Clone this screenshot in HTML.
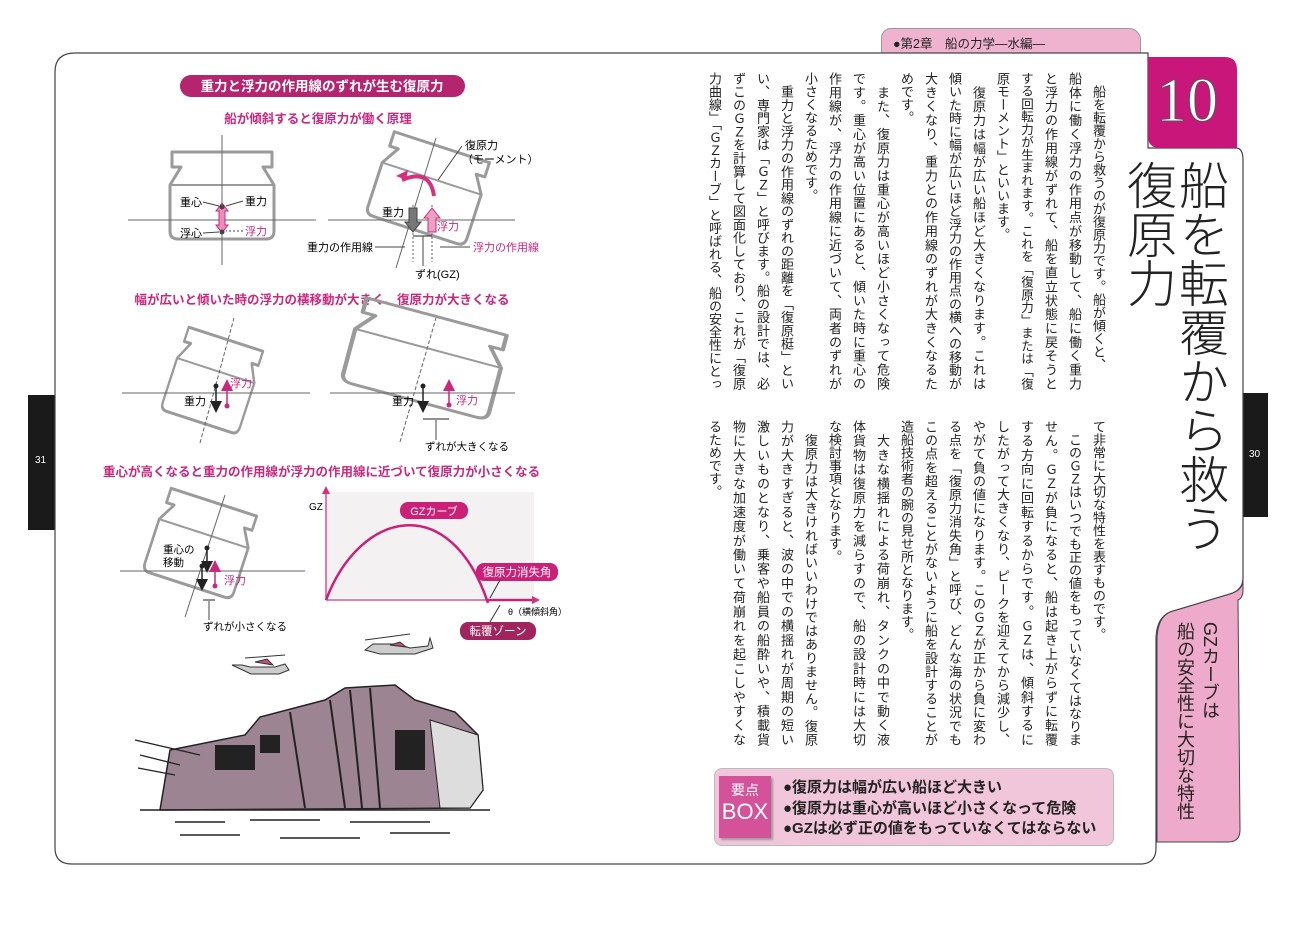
<!DOCTYPE html>
<html><head><meta charset="utf-8">
<style>
body{margin:0;width:1299px;height:925px;background:#fff;position:relative;overflow:hidden;font-family:"Liberation Sans","Noto Sans CJK JP",sans-serif;color:#222}
.abs{position:absolute}
.cols{position:absolute;display:flex;flex-direction:row-reverse;}
.cols div{writing-mode:vertical-rl;width:24px;font-size:13px;line-height:24px;white-space:nowrap;overflow:hidden}
.cols div.f{text-align:justify;text-align-last:justify}
.u div{height:318px}
.l div{height:326px}
</style></head><body>
<div class="abs" style="left:881px;top:28px;width:258px;height:40px;background:#efb3cf;border:1px solid #999;border-radius:10px 12px 0 0;"></div>
<div class="abs" style="left:893px;top:33px;font-size:12.5px;color:#222">●第2章　船の力学―水編―</div>
<div class="abs" style="left:28px;top:395px;width:30px;height:135px;background:#1a1a1a;"></div>
<div class="abs" style="left:35px;top:455px;font-size:10px;color:#fff">31</div>
<div class="abs" style="left:1240px;top:393px;width:28px;height:124px;background:#1a1a1a;"></div>
<div class="abs" style="left:1249px;top:449px;font-size:10px;color:#fff">30</div>
<svg class="abs" style="left:0;top:0" width="1299" height="925">
<path d="M75,53 H1148 V148 H1236 Q1243,148 1243,160 V578 Q1243,590 1230,594 L1170,612 Q1156,618 1156,640 V848 Q1156,864 1140,864 H72 Q55,864 55,848 V72 Q55,53 75,53 Z" fill="#fff" stroke="#444" stroke-width="1.2"/>
<path d="M1243,590 Q1243,598 1238,600 L1240,830 Q1240,842 1228,842 H1157 V640 Q1157,618 1170,612 L1230,594 Q1243,590 1243,580 Z" fill="#eeaacb" stroke="#444" stroke-width="1"/>
<path d="M1148,57 H1225 Q1237,57 1237,70 V148 H1160 Q1148,148 1148,136 Z" fill="#c8167a"/>
</svg>
<div class="abs" style="left:1156px;top:58px;font-size:62px;line-height:86px;color:#fff;font-family:'Liberation Serif',serif;-webkit-text-stroke:1px #555;">10</div>
<div class="abs" style="left:1174px;top:160px;writing-mode:vertical-rl;font-size:50px;line-height:52px;letter-spacing:-1px;color:#222;font-weight:300">船を転覆から救う</div>
<div class="abs" style="left:1122px;top:160px;writing-mode:vertical-rl;font-size:50px;line-height:52px;letter-spacing:-1px;color:#222;font-weight:300">復原力</div>
<div class="abs" style="left:1197px;top:622px;writing-mode:vertical-rl;font-size:18px;line-height:26px;color:#222">GZカーブは</div>
<div class="abs" style="left:1172px;top:622px;writing-mode:vertical-rl;font-size:18px;line-height:26px;color:#222">船の安全性に大切な特性</div>
<div class="cols u" style="left:702px;top:72px;height:318px;width:408px">
<div>　船を転覆から救うのが復原力です。船が傾くと、</div>
<div class="f">船体に働く浮力の作用点が移動して、船に働く重力</div>
<div class="f">と浮力の作用線がずれて、船を直立状態に戻そうと</div>
<div class="f" style="font-size:12.5px">する回転力が生まれます。これを「復原力」または「復</div>
<div>原モーメント」といいます。</div>
<div class="f">　復原力は幅が広い船ほど大きくなります。これは</div>
<div class="f">傾いた時に幅が広いほど浮力の作用点の横への移動が</div>
<div class="f">大きくなり、重力との作用線のずれが大きくなるた</div>
<div>めです。</div>
<div class="f">　また、復原力は重心が高いほど小さくなって危険</div>
<div class="f">です。重心が高い位置にあると、傾いた時に重心の</div>
<div class="f">作用線が、浮力の作用線に近づいて、両者のずれが</div>
<div>小さくなるためです。</div>
<div class="f">　重力と浮力の作用線のずれの距離を「復原梃」とい</div>
<div class="f">い、専門家は「ＧＺ」と呼びます。船の設計では、必</div>
<div class="f">ずこのＧＺを計算して図面化しており、これが「復原</div>
<div class="f">力曲線」「ＧＺカーブ」と呼ばれる、船の安全性にとっ</div>
</div>
<div class="cols l" style="left:702px;top:420px;height:326px;width:408px">
<div>て非常に大切な特性を表すものです。</div>
<div class="f">　このＧＺはいつでも正の値をもっていなくてはなりま</div>
<div class="f">せん。ＧＺが負になると、船は起き上がらずに転覆</div>
<div class="f">する方向に回転するからです。ＧＺは、傾斜するに</div>
<div class="f">したがって大きくなり、ピークを迎えてから減少し、</div>
<div class="f">やがて負の値になります。このＧＺが正から負に変わ</div>
<div class="f">る点を「復原力消失角」と呼び、どんな海の状況でも</div>
<div class="f">この点を超えることがないように船を設計することが</div>
<div>造船技術者の腕の見せ所となります。</div>
<div class="f">　大きな横揺れによる荷崩れ、タンクの中で動く液</div>
<div class="f">体貨物は復原力を減らすので、船の設計時には大切</div>
<div>な検討事項となります。</div>
<div class="f">　復原力は大きければいいわけではありません。復原</div>
<div class="f">力が大きすぎると、波の中での横揺れが周期の短い</div>
<div class="f">激しいものとなり、乗客や船員の船酔いや、積載貨</div>
<div class="f">物に大きな加速度が働いて荷崩れを起こしやすくな</div>
<div>るためです。</div>
</div>
<div class="abs" style="left:714px;top:768px;width:398px;height:76px;background:#f2c6da;border:1px solid #bbb;border-radius:8px;"></div>
<div class="abs" style="left:719px;top:776px;width:52px;height:62px;background:#d4529a;box-shadow:2px 2px 2px #999;color:#fff;text-align:center;font-size:14px;line-height:17px;padding-top:6px;box-sizing:border-box">要点<br><span style="font-size:22px;line-height:26px">BOX</span></div>
<div class="abs" style="left:783px;top:778px;font-size:15px;line-height:20.5px;font-weight:bold;color:#222">●復原力は幅が広い船ほど大きい<br>●復原力は重心が高いほど小さくなって危険<br>●GZは必ず正の値をもっていなくてはならない</div>

<svg class="abs" style="left:0;top:0" width="700" height="925" font-family="Liberation Sans, Noto Sans CJK JP, sans-serif">
<defs>
<g id="ship"><path d="M-50,-45 H50 V-30 H41 L52,-12 V34 Q52,42 44,42 H-44 Q-52,42 -52,34 V-12 L-41,-30 H-50 Z" fill="none" stroke="#9a9a9a" stroke-width="3" stroke-linejoin="round"/><line x1="-52" y1="-12" x2="52" y2="-12" stroke="#9a9a9a" stroke-width="2"/></g>
<marker id="ah" markerWidth="8" markerHeight="8" refX="6" refY="4" orient="auto"><path d="M0,0 L8,4 L0,8 Z" fill="#222"/></marker>
<marker id="ahp" markerWidth="8" markerHeight="8" refX="6" refY="4" orient="auto"><path d="M0,0 L8,4 L0,8 Z" fill="#c8287e"/></marker>
</defs>
<rect x="180" y="75" width="285" height="22" rx="11" fill="#b5246f"/>
<text x="322" y="91" font-size="13.5" fill="#fff" text-anchor="middle" font-weight="bold">重力と浮力の作用線のずれが生む復原力</text>
<text x="318" y="123" font-size="12.5" fill="#c8287e" text-anchor="middle" font-weight="bold">船が傾斜すると復原力が働く原理</text>
<use href="#ship" transform="translate(222,197)"/>
<line x1="128" y1="220" x2="316" y2="220" stroke="#666"/>
<line x1="222" y1="135" x2="222" y2="265" stroke="#666"/>
<path d="M222,203 l-6,8 h3 v14 h-3 l6,8 l6,-8 h-3 v-14 h3 z" fill="#ec8cb8" stroke="#c8287e"/>
<circle cx="222" cy="207" r="2.5" fill="#444"/><circle cx="222" cy="232" r="2.5" fill="#444"/>
<text x="180" y="206" font-size="11">重心</text><text x="245" y="205" font-size="11">重力</text>
<text x="180" y="237" font-size="11">浮心</text><text x="245" y="235" font-size="11" fill="#c8287e">浮力</text>
<line x1="203" y1="202" x2="219" y2="206" stroke="#444"/><line x1="243" y1="201" x2="226" y2="206" stroke="#444"/>
<line x1="203" y1="233" x2="219" y2="232" stroke="#444"/><line x1="243" y1="231" x2="226" y2="231" stroke="#444" stroke-dasharray="2,2"/>
<use href="#ship" transform="translate(428,190) rotate(18)"/>
<line x1="328" y1="220" x2="515" y2="220" stroke="#666"/>
<line x1="396" y1="268" x2="436" y2="138" stroke="#666"/>
<path d="M402,180 Q430,168 434,196" fill="none" stroke="#d6307e" stroke-width="4"/><path d="M396,176 l12,-6 l-2,10 z" fill="#d6307e"/>
<line x1="413" y1="205" x2="413" y2="262" stroke="#666" stroke-dasharray="2,2"/><line x1="432" y1="205" x2="432" y2="262" stroke="#666" stroke-dasharray="2,2"/>
<path d="M409,208 h8 v14 h4 l-8,10 l-8,-10 h4 z" fill="#777" stroke="#444"/>
<path d="M428,232 v-14 h-4 l8,-10 l8,10 h-4 v14 z" fill="#eea0c4" stroke="#c8287e"/>
<line x1="413" y1="236" x2="432" y2="236" stroke="#222"/>
<text x="382" y="216" font-size="11">重力</text><text x="437" y="230" font-size="11" fill="#c8287e">浮力</text>
<text x="465" y="149" font-size="11">復原力</text><text x="462" y="163" font-size="11">（モーメント）</text>
<line x1="462" y1="146" x2="438" y2="180" stroke="#444"/>
<text x="307" y="251" font-size="11">重力の作用線</text><line x1="375" y1="247" x2="405" y2="247" stroke="#444"/>
<text x="473" y="251" font-size="11" fill="#c8287e">浮力の作用線</text><line x1="440" y1="247" x2="470" y2="247" stroke="#444"/>
<text x="415" y="278" font-size="11">ずれ(GZ)</text><line x1="423" y1="236" x2="423" y2="266" stroke="#444"/>
<text x="322" y="304" font-size="12.5" fill="#c8287e" text-anchor="middle" font-weight="bold">幅が広いと傾いた時の浮力の横移動が大きく、復原力が大きくなる</text>
<use href="#ship" transform="translate(212,382) rotate(18) scale(0.78,1)"/>
<line x1="122" y1="393" x2="310" y2="393" stroke="#666"/>
<line x1="200" y1="443" x2="234" y2="318" stroke="#666" stroke-dasharray="4,2"/>
<line x1="216" y1="386" x2="216" y2="410" stroke="#222" stroke-width="1.5" marker-end="url(#ah)"/><circle cx="216" cy="386" r="2.5" fill="#222"/>
<line x1="227" y1="405" x2="227" y2="382" stroke="#c8287e" stroke-width="1.5" marker-end="url(#ahp)"/><circle cx="227" cy="406" r="2.5" fill="#c8287e"/>
<text x="184" y="405" font-size="11">重力</text><text x="230" y="387" font-size="11" fill="#c8287e">浮力</text>
<use href="#ship" transform="translate(425,360) rotate(15) scale(1.45,1)"/>
<line x1="330" y1="393" x2="515" y2="393" stroke="#666"/>
<line x1="400" y1="442" x2="436" y2="318" stroke="#666" stroke-dasharray="4,2"/>
<line x1="423" y1="386" x2="423" y2="410" stroke="#222" stroke-width="1.5" marker-end="url(#ah)"/><circle cx="423" cy="386" r="2.5" fill="#222"/>
<line x1="449" y1="404" x2="449" y2="382" stroke="#c8287e" stroke-width="1.5" marker-end="url(#ahp)"/><circle cx="449" cy="405" r="2.5" fill="#c8287e"/>
<line x1="423" y1="419" x2="449" y2="419" stroke="#222"/>
<text x="392" y="405" font-size="11">重力</text><text x="456" y="404" font-size="11" fill="#c8287e">浮力</text>
<text x="425" y="450" font-size="10.5">ずれが大きくなる</text><line x1="436" y1="420" x2="436" y2="440" stroke="#444"/>
<text x="103" y="476" font-size="12.5" fill="#c8287e" font-weight="bold">重心が高くなると重力の作用線が浮力の作用線に近づいて復原力が小さくなる</text>
<use href="#ship" transform="translate(200,545) rotate(18) scale(0.9,1)"/>
<line x1="120" y1="571" x2="305" y2="571" stroke="#666"/>
<line x1="185" y1="617" x2="225" y2="495" stroke="#666"/>
<line x1="207" y1="548" x2="207" y2="570" stroke="#222" stroke-width="1.5" marker-end="url(#ah)"/><circle cx="207" cy="548" r="2.5" fill="#222"/>
<line x1="202" y1="566" x2="202" y2="588" stroke="#222" stroke-width="1.5" marker-end="url(#ah)"/><circle cx="202" cy="566" r="2.5" fill="#222"/>
<line x1="215" y1="585" x2="215" y2="563" stroke="#c8287e" stroke-width="1.5" marker-end="url(#ahp)"/><circle cx="215" cy="586" r="2.5" fill="#c8287e"/>
<line x1="203" y1="600" x2="215" y2="600" stroke="#222"/>
<text x="163" y="553" font-size="10.5">重心の</text><text x="163" y="566" font-size="10.5">移動</text>
<text x="224" y="584" font-size="11" fill="#c8287e">浮力</text>
<text x="203" y="630" font-size="10.5">ずれが小さくなる</text><line x1="209" y1="601" x2="209" y2="620" stroke="#444"/>
<rect x="327" y="492" width="207" height="106" fill="#f3f1f2"/>
<line x1="326" y1="600" x2="326" y2="490" stroke="#d6307e" stroke-width="1.3"/><path d="M322,494 l4,-8 l4,8 z" fill="#d6307e"/>
<line x1="326" y1="600" x2="534" y2="600" stroke="#d6307e" stroke-width="1.3"/><path d="M532,596 l8,4 l-8,4 z" fill="#d6307e"/>
<text x="309" y="510" font-size="10">GZ</text>
<path d="M326,600 C360,510 450,490 488,603" fill="none" stroke="#cc1f77" stroke-width="2.5"/>
<line x1="488" y1="600" x2="532" y2="600" stroke="#cc1f77" stroke-width="2.5"/>
<rect x="400" y="502" width="68" height="17" rx="8" fill="#cc1f77"/><text x="434" y="515" font-size="11" fill="#fff" text-anchor="middle">GZカーブ</text>
<rect x="476" y="563" width="82" height="18" rx="8" fill="#cc1f77"/><text x="517" y="576" font-size="11.5" fill="#fff" text-anchor="middle">復原力消失角</text>
<line x1="490" y1="598" x2="500" y2="580" stroke="#333"/>
<text x="508" y="615" font-size="9">θ（横傾斜角）</text>
<rect x="460" y="622" width="76" height="18" rx="8" fill="#a0255f"/><text x="498" y="635" font-size="11.5" fill="#fff" text-anchor="middle">転覆ゾーン</text>
<line x1="500" y1="605" x2="490" y2="622" stroke="#333"/>
<g stroke="#333" stroke-width="1"><path d="M232,665 l10,0 l8,2 h25 l10,-3 l4,6 l-10,4 h-28 z" fill="#ccc"/><path d="M255,662 l12,-3 l6,6 z" fill="#c0507e"/><line x1="245" y1="658" x2="285" y2="655"/></g>
<g stroke="#333" stroke-width="1"><path d="M365,650 l8,-6 h25 l12,4 l18,-2 l2,-8 l3,10 l-18,6 h-35 z" fill="#ccc"/><path d="M390,645 l10,-3 l6,5 z" fill="#c0507e"/><line x1="365" y1="640" x2="410" y2="634"/></g>
<path d="M160,810 L170,750 L245,735 L260,717 L325,700 L345,688 L395,685 L415,700 L455,712 L478,735 L483,790 L470,808 Z" fill="#9d8492" stroke="#222" stroke-width="1.5"/>
<path d="M430,720 L478,735 L483,790 L470,808 L440,808 Z" fill="#ddd" stroke="#222"/>
<g stroke="#222" stroke-width="2"><line x1="290" y1="712" x2="305" y2="808"/><line x1="330" y1="700" x2="345" y2="808"/><line x1="350" y1="690" x2="362" y2="808"/><line x1="370" y1="688" x2="380" y2="808"/></g>
<g fill="#222"><rect x="215" y="745" width="40" height="25"/><rect x="395" y="730" width="30" height="40"/><rect x="260" y="735" width="20" height="18"/></g>
<g stroke="#222" stroke-width="1.3"><line x1="135" y1="740" x2="200" y2="755"/><line x1="140" y1="755" x2="180" y2="765"/><line x1="138" y1="768" x2="175" y2="775"/></g>
<g stroke="#222" stroke-width="1.5"><line x1="140" y1="810" x2="490" y2="810"/><line x1="175" y1="822" x2="225" y2="822"/><line x1="250" y1="820" x2="320" y2="820"/><line x1="350" y1="822" x2="430" y2="822"/><line x1="180" y1="835" x2="240" y2="835"/><line x1="280" y1="838" x2="360" y2="838"/><line x1="390" y1="833" x2="450" y2="833"/></g>
</svg>
</body></html>
